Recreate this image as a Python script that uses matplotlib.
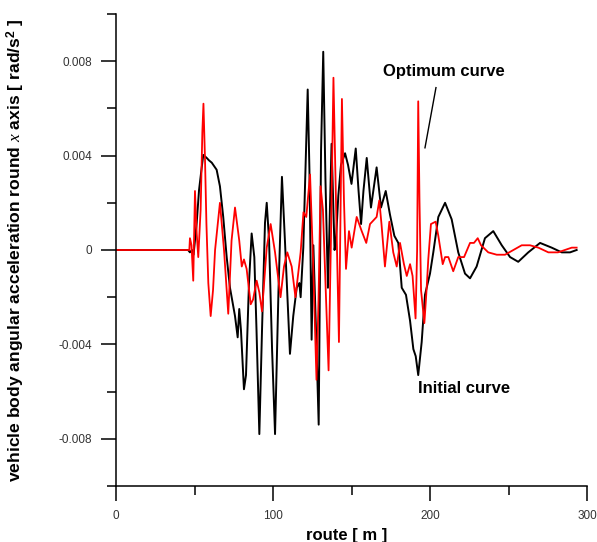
import numpy as np
import matplotlib
matplotlib.use("Agg")
import matplotlib.pyplot as plt
from matplotlib.ticker import MultipleLocator, FixedLocator, FixedFormatter

# fonts: Arial-like text, serif italic x in the axis label
plt.rcParams['font.family'] = ['Liberation Sans', 'DejaVu Sans']
plt.rcParams['mathtext.fontset'] = 'custom'
plt.rcParams['mathtext.rm'] = 'Liberation Sans:bold'
plt.rcParams['mathtext.bf'] = 'Liberation Sans:bold'
plt.rcParams['mathtext.it'] = 'Liberation Serif:italic'
plt.rcParams['axes.unicode_minus'] = False

# initial curve (black), route [m] / acceleration [rad/s2]
init_x = [0, 45.9, 47.1, 48.4, 49.4, 51.4, 52.9, 54.6, 55.6, 57.8, 59.2, 61.0, 64.1,
          66.2, 68.3, 70.5, 72.6, 75.8, 77.5, 78.5, 79.6, 81.5, 82.8, 84.7, 86.4,
          88.1, 89.5, 91.3, 93.0, 94.9, 96.0, 97.5, 99.4, 101.3, 103.5, 105.7,
          107.6, 110.8, 112.9, 115.1, 116.8, 117.6, 119.3, 122.1, 123.2, 124.6,
          125.7, 127.4, 129.1, 130.6, 132.0, 133.4, 135.0, 137.3, 139.2, 140.1,
          141.6, 143.3, 145.9, 147.8, 150.0, 152.7, 154.5, 156.1, 157.6, 159.7,
          162.4, 166.0, 168.8, 171.8, 174.5, 177.3, 179.8, 182.0, 184.7, 187.3,
          189.4, 190.9, 192.5, 194.7, 196.8, 200.0, 202.1, 205.3, 209.6, 213.8,
          218.0, 222.3, 225.5, 229.7, 235.0, 240.3, 245.7, 251.0, 256.2, 262.6,
          270.1, 277.5, 283.9, 289.2, 293.4]
init_y = [0, 0, -0.0001, 0, -0.0002, 0.00115, 0.00255, 0.0035, 0.00403, 0.0039,
          0.0038, 0.0037, 0.0034, 0.0027, 0.0014, -0.0003, -0.0016, -0.0028,
          -0.0037, -0.0025, -0.0034, -0.0059, -0.0053, -0.0014, 0.0007, -0.0003,
          -0.0034, -0.0078, -0.0034, 0.00115, 0.002, 0.0004, -0.0042, -0.0078,
          -0.0017, 0.0031, 0.0004, -0.0044, -0.0028, -0.0016, -0.0014, -0.002,
          0.0001, 0.0068, 0.0034, -0.0038, 0.0002, -0.0034, -0.0074, 0.0042,
          0.0084, 0.003, -0.0016, 0.0045, 0.0, 0.0004, 0.0023, 0.0036, 0.0041,
          0.0036, 0.0028, 0.0043, 0.0025, 0.0011, 0.0025, 0.0039, 0.0018, 0.0035,
          0.0018, 0.0025, 0.0015, 0.0006, 0.0003, -0.0016, -0.0019, -0.003,
          -0.0042, -0.0045, -0.0053, -0.0039, -0.0019, -0.001, -0.0001, 0.0014,
          0.002, 0.0013, -0.0001, -0.001, -0.0012, -0.0007, 0.0005, 0.0008,
          0.0002, -0.0003, -0.0005, -0.0001, 0.0003, 0.0001, -0.0001, -0.0001, 0.0]

# optimum curve (red)
opt_x = [0, 46.7, 47.1, 48.1, 49.2, 50.3, 51.4, 52.4, 53.9, 55.0, 55.7, 56.7, 57.6,
         58.8, 60.3, 61.8, 63.1, 66.2, 68.8, 71.5, 73.6, 75.8, 78.5, 80.1, 81.5,
         83.2, 85.8, 87.3, 89.6, 91.3, 93.0, 96.0, 98.5, 101.3, 104.8, 107.0,
         109.1, 111.9, 114.3, 117.6, 119.4, 121.2, 123.6, 125.5, 127.7, 129.0,
         130.3, 131.8, 133.8, 135.4, 137.0, 138.5, 140.1, 142.0, 143.9, 145.2,
         146.5, 148.4, 150.1, 153.3, 156.5, 159.4, 161.8, 166.0, 167.7, 169.1,
         171.3, 174.1, 176.6, 178.8, 180.9, 183.4, 185.2, 187.3, 188.9, 190.8,
         191.8, 192.5, 193.3, 194.3, 196.4, 197.8, 198.9, 200.6, 203.6, 205.3,
         208.1, 209.6, 211.7, 214.8, 218.0, 221.7, 225.5, 228.0, 230.4, 232.5,
         237.1, 242.5, 247.8, 253.1, 258.4, 263.7, 269.0, 275.4, 281.5, 290.3, 293.4]
opt_y = [0, 0, 0.0005, 0.0002, -0.0013, 0.0025, 0.0007, -0.0003, 0.0017, 0.005,
         0.0062, 0.0038, 0.0011, -0.0014, -0.0028, -0.0017, 0.0, 0.002, 0.0,
         -0.0027, 0.0004, 0.0018, 0.0004, -0.0007, -0.0004, -0.0008, -0.0023,
         -0.0021, -0.0013, -0.0018, -0.0026, 0.0001, 0.0011, -0.0001, -0.002,
         -0.0007, -0.0001, -0.0007, -0.002, -0.0001, 0.0016, 0.0014, 0.0032,
         -0.0004, -0.0055, -0.0021, 0.0027, 0.0017, -0.0021, -0.0051, 0.0008,
         0.0073, 0.0021, -0.0039, 0.0064, 0.0021, -0.0008, 0.0008, 0.0001, 0.0014,
         0.0008, 0.0003, 0.0011, 0.0014, 0.0021, 0.0011, -0.0007, 0.0012, -0.0001,
         -0.0007, 0.0003, -0.0006, -0.0011, -0.0006, -0.0011, -0.0029, 0.0,
         0.0063, 0.0021, -0.0017, -0.0031, -0.0017, -0.0004, 0.0011, 0.0012,
         0.0006, -0.0006, -0.0003, -0.0003, -0.0009, -0.0003, -0.0003, 0.0003,
         0.0003, 0.0005, 0.0002, -0.0001, -0.0002, -0.0002, 0.0, 0.0002, 0.0002,
         0.0001, -0.0001, -0.0001, 0.0001, 0.0001]

yticks = [-0.008, -0.004, 0, 0.004, 0.008]
ytick_labels = ['-0.008', '-0.004', '0', '0.004', '0.008']
xticks = [0, 100, 200, 300]
xtick_labels = ['0', '100', '200', '300']

fig = plt.figure(figsize=(5.97, 5.42), dpi=100)
ax = fig.add_axes([116 / 597, 56 / 542, 471 / 597, 472 / 542])

ax.plot(init_x, init_y, color='black', lw=1.4)
ax.plot(opt_x, opt_y, color='#ff0000', lw=1.3)

ax.set_xlim(0, 300)
ax.set_ylim(-0.01, 0.01)

ax.spines['top'].set_visible(False)
ax.spines['right'].set_visible(False)
ax.spines['left'].set_linewidth(1.1)
ax.spines['bottom'].set_linewidth(1.1)

ax.xaxis.set_major_locator(FixedLocator(xticks))
ax.xaxis.set_major_formatter(FixedFormatter(xtick_labels))
ax.xaxis.set_minor_locator(MultipleLocator(50))
ax.yaxis.set_major_locator(FixedLocator(yticks))
ax.yaxis.set_major_formatter(FixedFormatter(ytick_labels))
ax.yaxis.set_minor_locator(MultipleLocator(0.002))

ax.tick_params(which='major', direction='out', length=11, width=1.1,
               labelsize=8.5, labelcolor='#333333', pad=6)
ax.tick_params(which='minor', direction='out', length=6.5, width=1.1)

ax.set_xlabel('route [ m ]', fontsize=12, fontweight='bold')
ax.set_ylabel(r'vehicle body angular acceleration round $x$ axis [ rad/s$^2$ ]',
              fontsize=12.6, fontweight='bold')
ax.xaxis.set_label_coords(0.49, -0.089)
ax.yaxis.set_label_coords(-0.19, 0.5)

# curve labels
ax.text(170, 0.00755, 'Optimum curve', fontsize=12, fontweight='bold',
        va='center', ha='left')
ax.plot([203.8, 196.8], [0.00688, 0.00433], color='black', lw=1.0)
ax.text(192.4, -0.00586, 'Initial curve', fontsize=12, fontweight='bold',
        va='center', ha='left')

plt.savefig('out.png', dpi=100)
